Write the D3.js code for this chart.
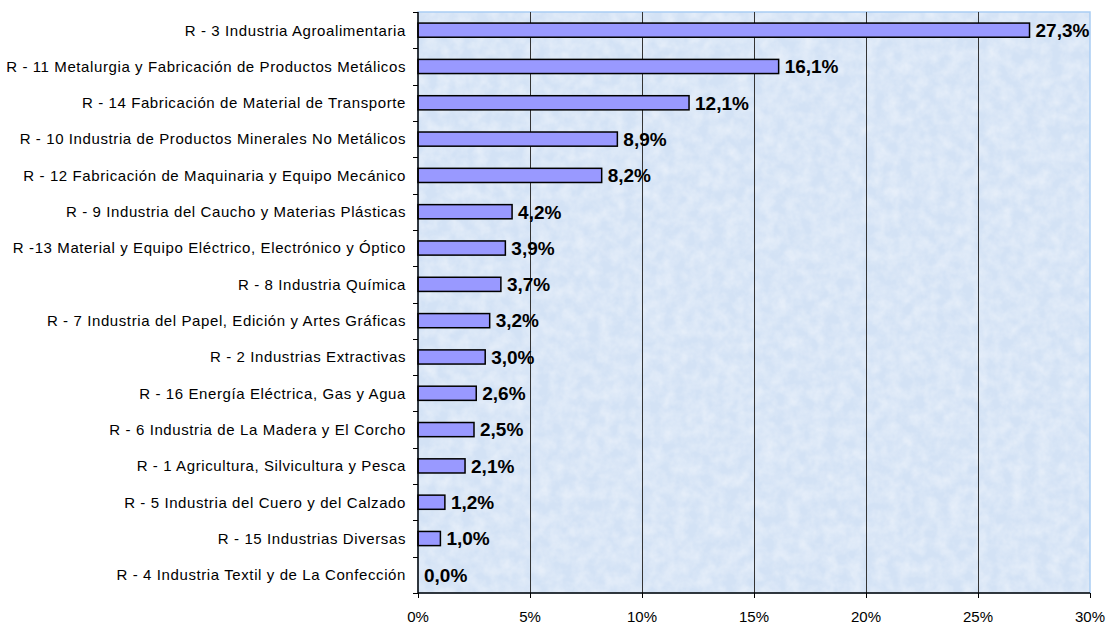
<!DOCTYPE html>
<html><head><meta charset="utf-8">
<script src="https://cdn.jsdelivr.net/npm/d3@7"></script>
<style>body{margin:0;background:#fff;} svg{display:block;}</style>
</head><body>
<script>
const categories = [
 "R - 3 Industria Agroalimentaria",
 "R - 11 Metalurgia y Fabricación de Productos Metálicos",
 "R - 14 Fabricación de Material de Transporte",
 "R - 10 Industria de Productos Minerales No Metálicos",
 "R - 12 Fabricación de Maquinaria y Equipo Mecánico",
 "R - 9 Industria del Caucho y Materias Plásticas",
 "R -13 Material y Equipo Eléctrico, Electrónico y Óptico",
 "R - 8 Industria Química",
 "R - 7 Industria del Papel, Edición y Artes Gráficas",
 "R - 2 Industrias Extractivas",
 "R - 16 Energía Eléctrica, Gas y Agua",
 "R - 6 Industria de La Madera y El Corcho",
 "R - 1 Agricultura, Silvicultura y Pesca",
 "R - 5 Industria del Cuero y del Calzado",
 "R - 15 Industrias Diversas",
 "R - 4 Industria Textil y de La Confección"
];
const values = [27.3,16.1,12.1,8.9,8.2,4.2,3.9,3.7,3.2,3.0,2.6,2.5,2.1,1.2,1.0,0.0];
const valueLabels = ["27,3%","16,1%","12,1%","8,9%","8,2%","4,2%","3,9%","3,7%","3,2%","3,0%","2,6%","2,5%","2,1%","1,2%","1,0%","0,0%"];
const xTicks = [0,5,10,15,20,25,30];

const W=1107,H=625;
const L=418,R=1090,T=12,B=593;
const FONT="Liberation Sans, Arial, sans-serif";
const svg=d3.select("body").append("svg").attr("width",W).attr("height",H);
const defs=svg.append("defs");
const f=defs.append("filter").attr("id","tex").attr("x",0).attr("y",0).attr("width","100%").attr("height","100%");
f.append("feTurbulence").attr("type","fractalNoise").attr("baseFrequency",0.08).attr("numOctaves",3).attr("seed",4).attr("result","n");
f.append("feColorMatrix").attr("in","n").attr("type","matrix")
 .attr("values","0 0 0 0 1  0 0 0 0 1  0 0 0 0 1  0 0 0 -1.2 0.85");

const x=d3.scaleLinear().domain([0,30]).range([L,R]);
const y=d3.scaleBand().domain(categories).range([T,B]).paddingInner(0.61).paddingOuter(0.305);
const yb=d3.scaleBand().domain(categories).range([T,B]);

svg.append("rect").attr("x",L).attr("y",T).attr("width",R-L).attr("height",B-T).attr("fill","#d3e2f5");
svg.append("rect").attr("x",L).attr("y",T).attr("width",R-L).attr("height",B-T).attr("fill","#ffffff").attr("filter","url(#tex)").attr("opacity",0.6);
svg.append("rect").attr("x",L).attr("y",T).attr("width",R-L).attr("height",B-T).attr("fill","none").attr("stroke","#a9cdf3").attr("stroke-width",1.5);

svg.append("g").selectAll("line").data(xTicks.slice(1,-1)).join("line")
 .attr("x1",d=>Math.round(x(d))+0.5).attr("x2",d=>Math.round(x(d))+0.5).attr("y1",T).attr("y2",B)
 .attr("stroke","#333").attr("stroke-width",1);

svg.append("g").selectAll("rect").data(values).join("rect")
 .attr("x",x(0)).attr("y",(d,i)=>y(categories[i])).attr("width",d=>x(d)-x(0)).attr("height",y.bandwidth())
 .attr("fill","#9999ff").attr("stroke","#000").attr("stroke-width",1.5)
 .attr("display",d=>d>0?null:"none");

svg.append("g").selectAll("text").data(values).join("text")
 .attr("x",d=>x(d)+6).attr("y",(d,i)=>y(categories[i])+y.bandwidth()/2).attr("dy","0.36em")
 .attr("font-family",FONT).attr("font-weight","bold").attr("font-size",19)
 .text((d,i)=>valueLabels[i]);

// y axis
const ya=svg.append("g").attr("transform",`translate(${L},0)`);
ya.append("line").attr("x1",0).attr("x2",0).attr("y1",T).attr("y2",B).attr("stroke","#000").attr("stroke-width",1.5);
ya.selectAll("line.t").data(categories.concat(["end"])).join("line").attr("class","t")
 .attr("x1",-5).attr("x2",0)
 .attr("y1",(d,i)=>Math.round(T+i*yb.step())+0.5).attr("y2",(d,i)=>Math.round(T+i*yb.step())+0.5)
 .attr("stroke","#000");
ya.selectAll("text").data(categories).join("text")
 .attr("x",-12).attr("y",d=>yb(d)+yb.bandwidth()/2).attr("dy","0.36em").attr("text-anchor","end")
 .attr("font-family",FONT).attr("font-size",15).attr("letter-spacing","0.6px").text(d=>d);

// x axis
const xa=svg.append("g").attr("transform",`translate(0,${B})`);
xa.append("line").attr("x1",L).attr("x2",R).attr("stroke","#000").attr("stroke-width",1.5);
xa.selectAll("line.t").data(xTicks).join("line").attr("class","t")
 .attr("x1",d=>Math.round(x(d))+0.5).attr("x2",d=>Math.round(x(d))+0.5).attr("y1",0).attr("y2",5).attr("stroke","#000");
xa.selectAll("text").data(xTicks).join("text")
 .attr("x",d=>x(d)).attr("y",29).attr("text-anchor","middle")
 .attr("font-family",FONT).attr("font-size",15).text(d=>d+"%");
</script>
</body></html>
